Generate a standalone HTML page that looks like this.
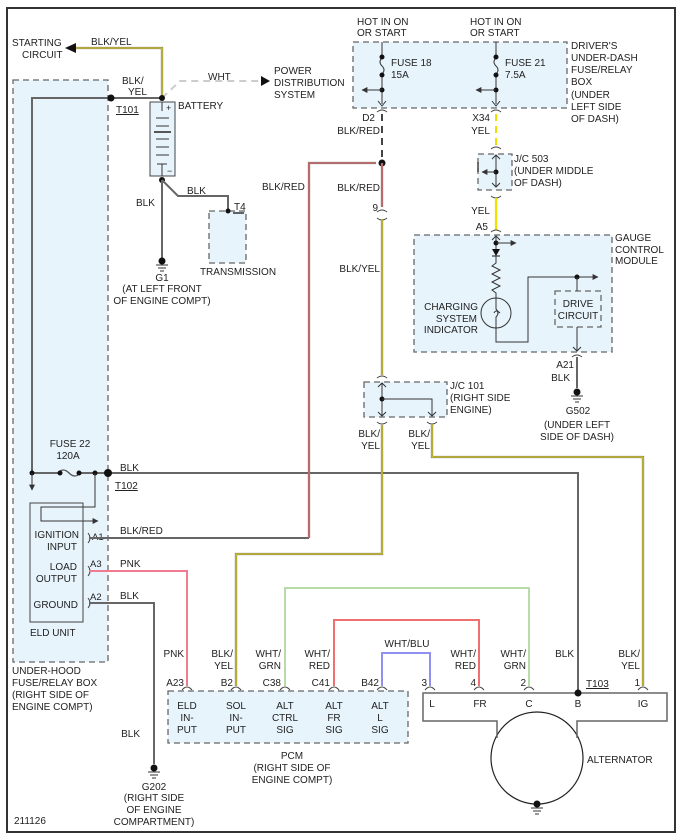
<!DOCTYPE html>
<html><head><meta charset="utf-8"><style>
html,body{margin:0;padding:0;background:#fff}
svg{display:block}
text{font-family:"Liberation Sans",Arial,sans-serif;font-size:10px;fill:#222}
.m{text-anchor:middle}
.e{text-anchor:end}
.box{fill:#e8f4fc;stroke:#666;stroke-width:1.3;stroke-dasharray:6,4}
.w{fill:none;stroke:#666;stroke-width:2}
.t{fill:none;stroke:#333;stroke-width:1}
.g{fill:none;stroke:#777;stroke-width:2.3}
.c{fill:none;stroke:#444;stroke-width:1}
</style></head><body>
<svg width="682" height="837" viewBox="0 0 682 837" xmlns="http://www.w3.org/2000/svg">
<defs>
<marker id="ar" viewBox="0 0 10 10" refX="9" refY="5" markerWidth="6" markerHeight="6" orient="auto"><path d="M0,0L10,5L0,10z" fill="#333"/></marker>
</defs>
<rect x="7" y="8" width="668" height="824" fill="none" stroke="#333" stroke-width="2"/>

<rect class="box" x="13" y="80" width="95" height="582"/>
<rect class="box" x="209" y="211" width="37" height="52"/>
<rect class="box" x="353" y="42" width="214" height="66"/>
<rect class="box" x="478" y="154" width="34" height="36"/>
<rect class="box" x="414" y="235" width="198" height="117"/>
<rect class="box" x="555" y="291" width="46" height="36"/>
<rect class="box" x="364" y="382" width="83" height="35"/>
<rect class="box" x="168" y="691" width="240" height="52"/>

<path class="g" d="M72,48H162V98"/><path d="M72,48H162V98" fill="none" stroke="#e8d800" stroke-width="1.1"/>
<path d="M76,43L65,48L76,53z" fill="#111"/>
<text x="12" y="46">STARTING</text><text x="22" y="58">CIRCUIT</text>
<text x="91" y="45">BLK/YEL</text>
<path d="M162,98L180,81H262" fill="none" stroke="#ccc" stroke-width="2" stroke-dasharray="7,5"/>
<path d="M261,76L270,81L261,86z" fill="#111"/>
<text x="208" y="80">WHT</text>
<text x="274" y="74">POWER</text><text x="274" y="86">DISTRIBUTION</text><text x="274" y="98">SYSTEM</text>
<path class="w" d="M162,98H32V473"/>
<circle cx="111" cy="98" r="3.5" fill="#111"/>
<circle cx="162" cy="98" r="3" fill="#111"/>
<text x="122" y="84">BLK/</text><text x="128" y="95">YEL</text>
<text x="116" y="113" style="text-decoration:underline">T101</text>
<rect x="150" y="102" width="25" height="74" fill="#e8f4fc" stroke="#444"/>
<path class="t" d="M162,102V111M156,118H169M156,126H169M154,132H171M156,139H169M156,147H169M156,155H169M157,164H167M162,164V176"/>
<path d="M154,132H171" stroke="#222" stroke-width="1.5"/>
<text x="166" y="111" style="font-size:9px">+</text><text x="167" y="174" style="font-size:9px">−</text>
<text x="178" y="109">BATTERY</text>
<circle cx="162" cy="180" r="3" fill="#111"/>
<path class="w" d="M162,180V258"/>
<path class="w" d="M162,180L178,196H228V211"/>
<circle cx="228" cy="211" r="2.5" fill="#111"/>
<path d="M233,213H244" stroke="#333" stroke-width="1.5"/>
<text x="234" y="210">T4</text>
<text x="187" y="194">BLK</text>
<text x="136" y="206">BLK</text>
<circle cx="162" cy="261" r="3.5" fill="#111"/>
<path class="t" d="M156,265H168M158,268H166M160,271H164"/>
<text x="238" y="275" class="m">TRANSMISSION</text>
<text x="162" y="281" class="m">G1</text>
<text x="162" y="292" class="m">(AT LEFT FRONT</text>
<text x="162" y="304" class="m">OF ENGINE COMPT)</text>

<text x="70" y="447" class="m">FUSE 22</text><text x="68" y="459" class="m">120A</text>
<path class="w" d="M32,473H58M80,473H108"/>
<path d="M58,473q5,-6 11,0t11,0" fill="none" stroke="#555" stroke-width="1.3"/>
<circle cx="32" cy="473" r="2.5" fill="#111"/><circle cx="60" cy="473" r="2.5" fill="#111"/><circle cx="79" cy="473" r="2.5" fill="#111"/><circle cx="95" cy="473" r="2.5" fill="#111"/>
<path class="t" d="M32,473V490" marker-end="url(#ar)"/>
<path class="t" d="M95,473V507H41V521H98" marker-end="url(#ar)"/>
<path class="w" d="M108,473H578V690"/>
<circle cx="108" cy="473" r="4" fill="#111"/>
<text x="120" y="471">BLK</text>
<text x="115" y="489" style="text-decoration:underline">T102</text>
<rect x="30" y="503" width="53" height="119" fill="none" stroke="#444"/>
<text x="79" y="538" class="e">IGNITION</text><text x="77" y="550" class="e">INPUT</text>
<text x="77" y="570" class="e">LOAD</text><text x="77" y="582" class="e">OUTPUT</text>
<text x="78" y="608" class="e">GROUND</text>
<text x="30" y="636">ELD UNIT</text>
<path class="c" d="M88,533q4,5 0,10M88,566q4,5 0,10M88,598q4,5 0,10"/>
<text x="92" y="540" style="font-size:9.5px">A1</text><text x="90" y="567" style="font-size:9.5px">A3</text><text x="90" y="600" style="font-size:9.5px">A2</text>
<text x="12" y="674">UNDER-HOOD</text><text x="12" y="686">FUSE/RELAY BOX</text><text x="12" y="698">(RIGHT SIDE OF</text><text x="12" y="710">ENGINE COMPT)</text>
<path class="w" d="M89,538H309"/>
<path class="g" d="M309,538V163H376"/><path d="M309,538V163H376" fill="none" stroke="#f06060" stroke-width="1.1"/>
<text x="120" y="534">BLK/RED</text>
<text x="262" y="190">BLK/RED</text>
<path d="M89,571H187V686" fill="none" stroke="#f07a90" stroke-width="2"/>
<text x="120" y="567">PNK</text>
<path class="w" d="M89,603H154V764"/>
<text x="120" y="599">BLK</text><text x="140" y="737" class="e">BLK</text>
<circle cx="154" cy="768" r="3.5" fill="#111"/>
<path class="t" d="M148,772H160M150,775H158M152,778H156"/>
<text x="154" y="790" class="m">G202</text><text x="154" y="801" class="m">(RIGHT SIDE</text><text x="154" y="813" class="m">OF ENGINE</text><text x="154" y="825" class="m">COMPARTMENT)</text>
<text x="14" y="824">211126</text>

<text x="357" y="25">HOT IN ON</text><text x="357" y="36">OR START</text>
<text x="470" y="25">HOT IN ON</text><text x="470" y="36">OR START</text>
<path class="t" d="M382,42V56M382,75V104M496,42V56M496,75V104"/>
<path d="M382,58q-4,4 0,8t0,8M496,58q-4,4 0,8t0,8" fill="none" stroke="#333"/>
<circle cx="382" cy="57" r="2.5" fill="#111"/><circle cx="382" cy="75" r="2.5" fill="#111"/><circle cx="382" cy="90" r="2.5" fill="#111"/>
<circle cx="496" cy="57" r="2.5" fill="#111"/><circle cx="496" cy="75" r="2.5" fill="#111"/><circle cx="496" cy="90" r="2.5" fill="#111"/>
<path class="t" d="M382,90H362" marker-end="url(#ar)"/><path class="t" d="M496,90H476" marker-end="url(#ar)"/>
<path class="t" d="M378,101L382,106L386,101M492,101L496,106L500,101"/>
<path class="c" d="M377,112q5,-4 10,0M491,112q5,-4 10,0"/>
<text x="391" y="66">FUSE 18</text><text x="391" y="78">15A</text>
<text x="505" y="66">FUSE 21</text><text x="505" y="78">7.5A</text>
<text x="571" y="49">DRIVER'S</text><text x="571" y="61">UNDER-DASH</text><text x="571" y="73">FUSE/RELAY</text><text x="571" y="85">BOX</text><text x="571" y="98">(UNDER</text><text x="571" y="110">LEFT SIDE</text><text x="571" y="122">OF DASH)</text>
<text x="375" y="121" class="e">D2</text><text x="380" y="134" class="e">BLK/RED</text>
<path d="M382,114V163" stroke="#444" stroke-width="2" stroke-dasharray="7,5"/>
<circle cx="382" cy="163" r="3.5" fill="#111"/>
<path class="g" d="M382,163V207"/><path d="M382,163V207" stroke="#f06060" stroke-width="1.1"/>
<text x="380" y="191" class="e">BLK/RED</text>
<text x="378" y="211" class="e">9</text>
<path class="c" d="M377,212q5,-4 10,0M377,218q5,4 10,0"/>
<path class="g" d="M382,219V375"/><path d="M382,219V375" fill="none" stroke="#e8d800" stroke-width="1.1"/>
<path class="g" d="M382,425V554H236V686"/><path d="M382,425V554H236V686" fill="none" stroke="#e8d800" stroke-width="1.1"/>
<text x="380" y="272" class="e">BLK/YEL</text>
<text x="490" y="121" class="e">X34</text><text x="490" y="134" class="e">YEL</text>
<path d="M496,114V146" stroke="#f0e000" stroke-width="2" stroke-dasharray="7,5"/>
<path class="c" d="M491,149q5,-4 10,0M491,196q5,4 10,0"/>
<path class="t" d="M496,155V187M492,159L496,155L500,159M492,183L496,187L500,183"/>
<circle cx="496" cy="172" r="2.5" fill="#111"/>
<path class="t" d="M496,172H482" marker-end="url(#ar)"/>
<path d="M478,162V172" stroke="#444" stroke-width="1.5"/>
<text x="514" y="162">J/C 503</text><text x="514" y="174">(UNDER MIDDLE</text><text x="514" y="186">OF DASH)</text>
<path d="M496,198V230" stroke="#f0e000" stroke-width="2.2"/>
<text x="490" y="214" class="e">YEL</text>
<text x="488" y="230" class="e">A5</text>
<path class="c" d="M491,232q5,-4 10,0"/>
<text x="615" y="241">GAUGE</text><text x="615" y="253">CONTROL</text><text x="615" y="264">MODULE</text>
<path class="t" d="M496,237V249M492,240L496,236L500,240"/>
<circle cx="496" cy="243" r="2.5" fill="#111"/>
<path class="t" d="M496,243H516" marker-end="url(#ar)"/>
<path d="M492,249H500L496,256z" fill="#111"/><path d="M492,256H500" stroke="#111"/>
<path d="M496,256V263l-4,3l8,4l-8,4l8,4l-8,4l8,4l-8,4l4,3V298" fill="none" stroke="#333"/>
<circle cx="496" cy="313" r="15" fill="none" stroke="#333"/>
<path d="M496,298V309q4,4 0,8V342H528V277H598" fill="none" stroke="#333" marker-end="url(#ar)"/>
<path d="M500,313q-4,-4 -6,0" fill="none" stroke="#333"/>
<circle cx="577" cy="277" r="2.5" fill="#111"/>
<path class="t" d="M577,277V291"/>
<text x="478" y="310" class="e">CHARGING</text><text x="477" y="322" class="e">SYSTEM</text><text x="478" y="333" class="e">INDICATOR</text>
<text x="578" y="307" class="m">DRIVE</text><text x="578" y="319" class="m">CIRCUIT</text>
<path class="t" d="M577,327V351M573,347L577,351L581,347"/>
<path class="c" d="M572,357q5,-4 10,0"/>
<path class="w" d="M577,357V388"/>
<text x="574" y="368" class="e">A21</text><text x="570" y="381" class="e">BLK</text>
<circle cx="577" cy="392" r="3.5" fill="#111"/>
<path class="t" d="M571,396H583M573,399H581M575,402H579"/>
<text x="578" y="414" class="m">G502</text><text x="577" y="428" class="m">(UNDER LEFT</text><text x="577" y="440" class="m">SIDE OF DASH)</text>
<path class="c" d="M377,378q5,-4 10,0M377,422q5,4 10,0M427,422q5,4 10,0"/>
<path class="t" d="M382,383V416M378,387L382,383L386,387M378,412L382,416L386,412"/>
<circle cx="382" cy="399" r="2.5" fill="#111"/>
<path class="t" d="M382,399H432V416M428,412L432,416L436,412"/>
<text x="450" y="389">J/C 101</text><text x="450" y="401">(RIGHT SIDE</text><text x="450" y="413">ENGINE)</text>
<text x="380" y="437" class="e">BLK/</text><text x="380" y="449" class="e">YEL</text>
<text x="430" y="437" class="e">BLK/</text><text x="430" y="449" class="e">YEL</text>
<path class="g" d="M432,424V457H643V686"/><path d="M432,424V457H643V686" fill="none" stroke="#e8d800" stroke-width="1.1"/>

<path d="M285,686V588H529V686" fill="none" stroke="#b8dca8" stroke-width="2"/>
<path d="M334,686V620H479V686" fill="none" stroke="#f07070" stroke-width="2"/>
<path d="M382,686V653H430V686" fill="none" stroke="#9090f0" stroke-width="2"/>
<text x="184" y="657" class="e">PNK</text>
<text x="233" y="657" class="e">BLK/</text><text x="233" y="669" class="e">YEL</text>
<text x="281" y="657" class="e">WHT/</text><text x="281" y="669" class="e">GRN</text>
<text x="330" y="657" class="e">WHT/</text><text x="330" y="669" class="e">RED</text>
<text x="407" y="647" class="m">WHT/BLU</text>
<text x="476" y="657" class="e">WHT/</text><text x="476" y="669" class="e">RED</text>
<text x="526" y="657" class="e">WHT/</text><text x="526" y="669" class="e">GRN</text>
<text x="574" y="657" class="e">BLK</text>
<text x="640" y="657" class="e">BLK/</text><text x="640" y="669" class="e">YEL</text>
<text x="184" y="686" class="e">A23</text><text x="233" y="686" class="e">B2</text><text x="281" y="686" class="e">C38</text><text x="330" y="686" class="e">C41</text><text x="379" y="686" class="e">B42</text>
<text x="427" y="686" class="e">3</text><text x="476" y="686" class="e">4</text><text x="526" y="686" class="e">2</text><text x="640" y="686" class="e">1</text>
<path class="c" d="M182,690q5,-6 10,0M231,690q5,-6 10,0M280,690q5,-6 10,0M329,690q5,-6 10,0M377,690q5,-6 10,0M425,690q5,-6 10,0M474,690q5,-6 10,0M524,690q5,-6 10,0M638,690q5,-6 10,0"/>
<text x="187" y="709" class="m">ELD</text><text x="187" y="721" class="m">IN-</text><text x="187" y="733" class="m">PUT</text>
<text x="236" y="709" class="m">SOL</text><text x="236" y="721" class="m">IN-</text><text x="236" y="733" class="m">PUT</text>
<text x="285" y="709" class="m">ALT</text><text x="285" y="721" class="m">CTRL</text><text x="285" y="733" class="m">SIG</text>
<text x="334" y="709" class="m">ALT</text><text x="334" y="721" class="m">FR</text><text x="334" y="733" class="m">SIG</text>
<text x="380" y="709" class="m">ALT</text><text x="380" y="721" class="m">L</text><text x="380" y="733" class="m">SIG</text>
<text x="292" y="759" class="m">PCM</text><text x="292" y="771" class="m">(RIGHT SIDE OF</text><text x="292" y="783" class="m">ENGINE COMPT)</text>

<circle cx="537" cy="758" r="46" fill="none" stroke="#222" stroke-width="1.2"/>
<path d="M497,738V721H423V693H667V721H577V738" fill="none" stroke="#666" stroke-width="1.5"/>
<circle cx="578" cy="693" r="3.5" fill="#111"/>
<text x="586" y="687" style="text-decoration:underline">T103</text>
<text x="432" y="707" class="m">L</text><text x="480" y="707" class="m">FR</text><text x="529" y="707" class="m">C</text><text x="578" y="707" class="m">B</text><text x="643" y="707" class="m">IG</text>
<text x="587" y="763">ALTERNATOR</text>
<circle cx="537" cy="804" r="3.5" fill="#111"/>
<path class="t" d="M531,808H543M533,811H541M535,814H539"/>
</svg>
</body></html>
